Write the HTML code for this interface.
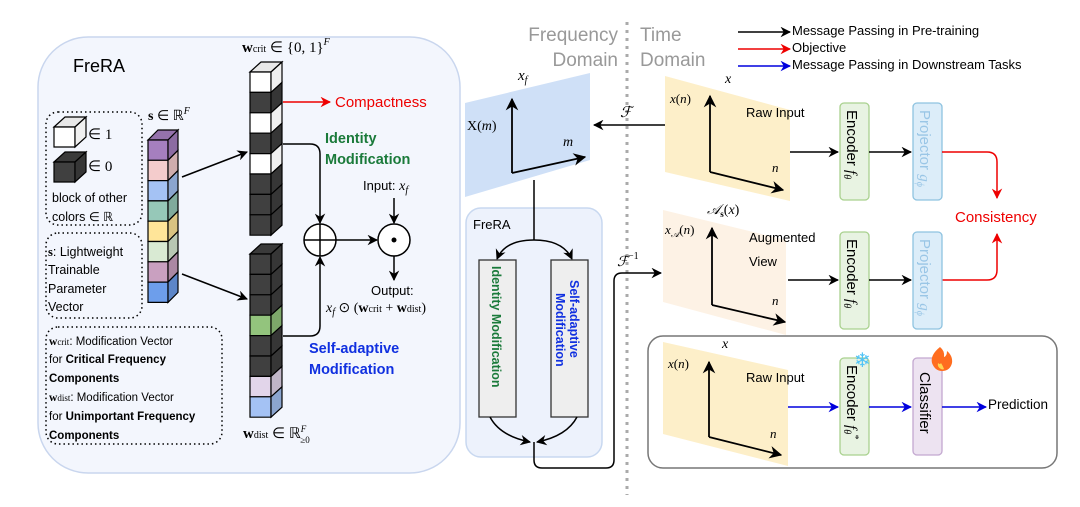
<!DOCTYPE html>
<html><head><meta charset="utf-8">
<style>
html,body{margin:0;padding:0;background:#fff;}
svg{display:block;}
text{font-family:"Liberation Sans",sans-serif;}
.m{font-family:"Liberation Serif",serif;font-style:italic;}
.b{font-family:"Liberation Serif",serif;font-weight:bold;}
</style></head>
<body>
<svg id="s" width="1080" height="507" viewBox="0 0 1080 507" xmlns="http://www.w3.org/2000/svg">
<defs>
<marker id="ak" viewBox="0 0 10 10" refX="9" refY="5" markerWidth="7" markerHeight="7" orient="auto-start-reverse"><path d="M0,0 L10,5 L0,10 L3,5 z" fill="#000"/></marker>
<marker id="ar" viewBox="0 0 10 10" refX="9" refY="5" markerWidth="7" markerHeight="7" orient="auto"><path d="M0,0 L10,5 L0,10 L3,5 z" fill="#e00"/></marker>
<marker id="ab" viewBox="0 0 10 10" refX="9" refY="5" markerWidth="7" markerHeight="7" orient="auto"><path d="M0,0 L10,5 L0,10 L3,5 z" fill="#00d"/></marker>
</defs>
<!-- left panel -->
<rect x="38" y="37" width="422" height="436" rx="50" fill="#f3f6fd" stroke="#c9d6ee" stroke-width="1.5"/>
<text x="73" y="72" font-size="18">FreRA</text>
<rect x="46" y="112" width="96" height="113" rx="12" fill="none" stroke="#000" stroke-width="1.5" stroke-dasharray="1.5 3"/>
<rect x="46" y="233" width="96" height="85" rx="12" fill="none" stroke="#000" stroke-width="1.5" stroke-dasharray="1.5 3"/>
<rect x="46" y="327" width="176" height="117" rx="12" fill="none" stroke="#000" stroke-width="1.5" stroke-dasharray="1.5 3"/>
<g id="cubes"></g>
<text x="88" y="139" font-size="15" class="m" style="font-style:normal">∈ 1</text>
<text x="88" y="171" font-size="15" class="m" style="font-style:normal">∈ 0</text>
<text x="52" y="202" font-size="12.5">block of other</text>
<text x="52" y="221" font-size="12.5">colors ∈ ℝ</text>
<text x="48" y="256" font-size="12.5"><tspan class="b">s</tspan>: Lightweight</text>
<text x="48" y="274" font-size="12.5">Trainable</text>
<text x="48" y="293" font-size="12.5">Parameter</text>
<text x="48" y="311" font-size="12.5">Vector</text>
<text x="49" y="345" font-size="11.5"><tspan class="b">w</tspan><tspan font-size="9" class="m" style="font-style:normal">crit</tspan>: Modification Vector</text>
<text x="49" y="363" font-size="11.5">for <tspan font-weight="bold">Critical Frequency</tspan></text>
<text x="49" y="382" font-size="11.5" font-weight="bold">Components</text>
<text x="49" y="401" font-size="11.5"><tspan class="b">w</tspan><tspan font-size="9" class="m" style="font-style:normal">dist</tspan>: Modification Vector</text>
<text x="49" y="420" font-size="11.5">for <tspan font-weight="bold">Unimportant Frequency</tspan></text>
<text x="49" y="439" font-size="11.5" font-weight="bold">Components</text>
<text x="148" y="120" font-size="14" class="m" style="font-style:normal"><tspan class="b">s</tspan> ∈ ℝ<tspan font-size="10" dy="-6" class="m">F</tspan></text>
<text x="242" y="52" font-size="15" class="m" style="font-style:normal"><tspan class="b">w</tspan><tspan font-size="10">crit</tspan> ∈ {0, 1}<tspan font-size="10" dy="-7" class="m">F</tspan></text>
<text x="243" y="438" font-size="15" class="m" style="font-style:normal"><tspan class="b">w</tspan><tspan font-size="10">dist</tspan> ∈ ℝ<tspan font-size="9" dy="-6" class="m">F</tspan><tspan font-size="9" dx="-6" dy="11">≥0</tspan></text>
<line x1="182" y1="177" x2="247" y2="152" stroke="#000" stroke-width="1.5" marker-end="url(#ak)"/>
<line x1="182" y1="274" x2="247" y2="299" stroke="#000" stroke-width="1.5" marker-end="url(#ak)"/>
<line x1="283" y1="102" x2="330" y2="102" stroke="#e00" stroke-width="1.5" marker-end="url(#ar)"/>
<text x="335" y="107" font-size="15" fill="#e00">Compactness</text>
<text x="325" y="143" font-size="14.5" fill="#1a7a3a" font-weight="bold">Identity</text>
<text x="325" y="164" font-size="14.5" fill="#1a7a3a" font-weight="bold">Modification</text>
<text x="309" y="353" font-size="14.5" fill="#1030e0" font-weight="bold">Self-adaptive</text>
<text x="309" y="374" font-size="14.5" fill="#1030e0" font-weight="bold">Modification</text>
<path d="M283,144 H310 Q320,144 320,154 V223" fill="none" stroke="#000" stroke-width="1.5" marker-end="url(#ak)"/>
<path d="M283,336 H310 Q320,336 320,326 V257" fill="none" stroke="#000" stroke-width="1.5" marker-end="url(#ak)"/>
<circle cx="320" cy="240" r="16" fill="#fff" stroke="#000" stroke-width="1.5"/>
<line x1="304" y1="240" x2="336" y2="240" stroke="#000" stroke-width="1.5"/><line x1="320" y1="224" x2="320" y2="256" stroke="#000" stroke-width="1.5"/>
<line x1="336" y1="240" x2="377" y2="240" stroke="#000" stroke-width="1.5" marker-end="url(#ak)"/>
<circle cx="394" cy="240" r="16" fill="#fff" stroke="#000" stroke-width="1.5"/><circle cx="394" cy="240" r="2.5" fill="#000"/>
<text x="363" y="190" font-size="13">Input: <tspan class="m" font-size="14">x<tspan font-size="10" dy="3">f</tspan></tspan></text>
<line x1="394" y1="198" x2="394" y2="223" stroke="#000" stroke-width="1.5" marker-end="url(#ak)"/>
<line x1="394" y1="256" x2="394" y2="280" stroke="#000" stroke-width="1.5" marker-end="url(#ak)"/>
<text x="371" y="295" font-size="13">Output:</text>
<text x="326" y="312" font-size="14" class="m" style="font-style:normal"><tspan class="m">x</tspan><tspan font-size="10" dy="3" class="m">f</tspan><tspan dy="-3"> ⊙ (</tspan><tspan class="b">w</tspan><tspan font-size="10">crit</tspan> + <tspan class="b">w</tspan><tspan font-size="10">dist</tspan>)</text>

<!-- domain labels -->
<text x="618" y="41" font-size="19" fill="#999" text-anchor="end">Frequency</text>
<text x="618" y="66" font-size="19" fill="#999" text-anchor="end">Domain</text>
<text x="640" y="41" font-size="19" fill="#999">Time</text>
<text x="640" y="66" font-size="19" fill="#999">Domain</text>
<line x1="627" y1="22" x2="627" y2="495" stroke="#aaa" stroke-width="3" stroke-dasharray="3 5"/>
<line x1="738" y1="32" x2="790" y2="32" stroke="#000" stroke-width="1.5" marker-end="url(#ak)"/>
<line x1="738" y1="49" x2="790" y2="49" stroke="#e00" stroke-width="1.5" marker-end="url(#ar)"/>
<line x1="738" y1="66" x2="790" y2="66" stroke="#00d" stroke-width="1.5" marker-end="url(#ab)"/>
<text x="792" y="35" font-size="13">Message Passing in Pre-training</text>
<text x="792" y="52" font-size="13">Objective</text>
<text x="792" y="69" font-size="13">Message Passing in Downstream Tasks</text>

<!-- freq domain -->
<polygon points="465,103 590,73 590,160 465,197" fill="#cfe0f7"/>
<line x1="512" y1="173" x2="512" y2="99" stroke="#000" stroke-width="1.8" marker-end="url(#ak)"/>
<line x1="512" y1="173" x2="585" y2="157" stroke="#000" stroke-width="1.8" marker-end="url(#ak)"/>
<text x="467" y="130" font-size="14" class="m" style="font-style:normal">X(<tspan class="m">m</tspan>)</text>
<text x="563" y="146" font-size="14" class="m">m</text>
<text x="518" y="80" font-size="15" class="m">x<tspan font-size="10" dy="3">f</tspan></text>
<line x1="665" y1="125" x2="594" y2="125" stroke="#000" stroke-width="1.5" marker-end="url(#ak)"/>
<text x="620" y="117" font-size="15" class="m">ℱ</text>
<rect x="466" y="208" width="136" height="249" rx="15" fill="#edf2fc" stroke="#c8d8f0" stroke-width="1.5"/>
<text x="473" y="229" font-size="13">FreRA</text>
<path d="M534,180 V240" stroke="#000" stroke-width="1.5" fill="none"/>
<path d="M534,240 Q505,240 497,259" stroke="#000" stroke-width="1.5" fill="none" marker-end="url(#ak)"/>
<path d="M534,240 Q563,240 572,259" stroke="#000" stroke-width="1.5" fill="none" marker-end="url(#ak)"/>
<rect x="479" y="260" width="37" height="157" fill="#eee" stroke="#333" stroke-width="1.3"/>
<rect x="551" y="260" width="37" height="157" fill="#eee" stroke="#333" stroke-width="1.3"/>
<text transform="translate(492,266) rotate(90)" font-size="12.5" fill="#1a7a3a" font-weight="bold">Identity  Modification</text>
<text transform="translate(570,280) rotate(90)" font-size="12.5" fill="#1030e0" font-weight="bold">Self-adaptive</text>
<text transform="translate(556,293) rotate(90)" font-size="12.5" fill="#1030e0" font-weight="bold">Modification</text>
<path d="M490,417 Q500,436 530,442" stroke="#000" stroke-width="1.5" fill="none" marker-end="url(#ak)"/>
<path d="M577,417 Q567,436 537,442" stroke="#000" stroke-width="1.5" fill="none" marker-end="url(#ak)"/>
<path d="M534,442 V460 Q534,468 542,468 H606 Q614,468 614,460 V281 Q614,273 622,273 H661" stroke="#000" stroke-width="1.5" fill="none" marker-end="url(#ak)"/>
<text x="617" y="266" font-size="14" class="m">ℱ<tspan font-size="10" dy="-7" style="font-style:normal">−1</tspan></text>

<!-- row1 -->
<polygon points="665,76 790,110 790,201 665,172" fill="#fdefc9"/>
<line x1="710" y1="172" x2="710" y2="96" stroke="#000" stroke-width="1.8" marker-end="url(#ak)"/>
<line x1="710" y1="172" x2="783" y2="190" stroke="#000" stroke-width="1.8" marker-end="url(#ak)"/>
<text x="670" y="103" font-size="13" class="m">x<tspan style="font-style:normal">(</tspan>n<tspan style="font-style:normal">)</tspan></text>
<text x="725" y="83" font-size="14" class="m">x</text>
<text x="772" y="172" font-size="13" class="m">n</text>
<text x="746" y="117" font-size="13">Raw Input</text>
<line x1="790" y1="152" x2="838" y2="152" stroke="#000" stroke-width="1.5" marker-end="url(#ak)"/>
<rect x="840" y="103" width="29" height="97" rx="4" fill="#e8f3e2" stroke="#a9d18e" stroke-width="1.3"/>
<text transform="translate(847,110) rotate(90)" font-size="15">Encoder <tspan class="m">f<tspan font-size="10" dy="3">θ</tspan></tspan></text>
<line x1="869" y1="152" x2="911" y2="152" stroke="#000" stroke-width="1.5" marker-end="url(#ak)"/>
<rect x="913" y="103" width="29" height="97" rx="4" fill="#dcedf9" stroke="#8ec3e0" stroke-width="1.3"/>
<text transform="translate(920,110) rotate(90)" font-size="15" fill="#9ac6e6">Projector <tspan class="m">g<tspan font-size="10" dy="3">ϕ</tspan></tspan></text>
<path d="M942,152 H987 Q997,152 997,162 V198" stroke="#e00" stroke-width="1.5" fill="none" marker-end="url(#ar)"/>
<text x="955" y="222" font-size="15" fill="#e00">Consistency</text>
<path d="M942,280 H987 Q997,280 997,270 V234" stroke="#e00" stroke-width="1.5" fill="none" marker-end="url(#ar)"/>

<!-- row2 -->
<polygon points="663,210 786,240 786,335 663,302" fill="#fdf2e5"/>
<line x1="712" y1="305" x2="712" y2="228" stroke="#000" stroke-width="1.8" marker-end="url(#ak)"/>
<line x1="712" y1="305" x2="785" y2="322" stroke="#000" stroke-width="1.8" marker-end="url(#ak)"/>
<text x="665" y="234" font-size="13" class="m">x<tspan font-size="9" dy="3">𝒜</tspan><tspan dy="-3" style="font-style:normal">(</tspan>n<tspan style="font-style:normal">)</tspan></text>
<text x="707" y="214" font-size="14" class="m">𝒜<tspan font-size="9" dy="3" class="b" style="font-style:normal">s</tspan><tspan dy="-3" style="font-style:normal">(</tspan>x<tspan style="font-style:normal">)</tspan></text>
<text x="749" y="242" font-size="13">Augmented</text>
<text x="749" y="266" font-size="13">View</text>
<text x="772" y="305" font-size="13" class="m">n</text>
<line x1="788" y1="280" x2="838" y2="280" stroke="#000" stroke-width="1.5" marker-end="url(#ak)"/>
<rect x="840" y="232" width="29" height="97" rx="4" fill="#e8f3e2" stroke="#a9d18e" stroke-width="1.3"/>
<text transform="translate(847,239) rotate(90)" font-size="15">Encoder <tspan class="m">f<tspan font-size="10" dy="3">θ</tspan></tspan></text>
<line x1="869" y1="280" x2="911" y2="280" stroke="#000" stroke-width="1.5" marker-end="url(#ak)"/>
<rect x="913" y="232" width="29" height="97" rx="4" fill="#dcedf9" stroke="#8ec3e0" stroke-width="1.3"/>
<text transform="translate(920,239) rotate(90)" font-size="15" fill="#9ac6e6">Projector <tspan class="m">g<tspan font-size="10" dy="3">ϕ</tspan></tspan></text>

<!-- row3 -->
<rect x="648" y="336" width="409" height="132" rx="15" fill="none" stroke="#777" stroke-width="1.5"/>
<polygon points="663,342 788,370 788,466 663,434" fill="#fdefc9"/>
<line x1="709" y1="437" x2="709" y2="362" stroke="#000" stroke-width="1.8" marker-end="url(#ak)"/>
<line x1="709" y1="437" x2="781" y2="455" stroke="#000" stroke-width="1.8" marker-end="url(#ak)"/>
<text x="668" y="368" font-size="13" class="m">x<tspan style="font-style:normal">(</tspan>n<tspan style="font-style:normal">)</tspan></text>
<text x="722" y="348" font-size="14" class="m">x</text>
<text x="770" y="438" font-size="13" class="m">n</text>
<text x="746" y="382" font-size="13">Raw Input</text>
<line x1="788" y1="407" x2="838" y2="407" stroke="#00d" stroke-width="1.5" marker-end="url(#ab)"/>
<rect x="840" y="358" width="29" height="97" rx="4" fill="#e8f3e2" stroke="#a9d18e" stroke-width="1.3"/>
<text transform="translate(847,365) rotate(90)" font-size="15">Encoder <tspan class="m">f<tspan font-size="10" dy="3">θ</tspan><tspan font-size="10" dy="-8">*</tspan></tspan></text>
<text x="854" y="367" font-size="20" fill="#4fc3f7">❄</text>
<line x1="869" y1="407" x2="911" y2="407" stroke="#00d" stroke-width="1.5" marker-end="url(#ab)"/>
<rect x="913" y="358" width="29" height="97" rx="4" fill="#ede3f1" stroke="#c3a8d0" stroke-width="1.3"/>
<text transform="translate(920,372) rotate(90)" font-size="15">Classifier</text>
<path d="M940,347 q-10,8 -8,16 q3,8 10,8 q8,0 10,-8 q1,-7 -5,-12 q0,5 -3,6 q1,-6 -4,-10z" fill="#ff6d1f"/>
<path d="M941,369 q-4,-2 -3,-6 q2,2 3,0 q2,3 3,6 q-1,1 -3,0z" fill="#ffd54f"/>
<line x1="942" y1="407" x2="986" y2="407" stroke="#00d" stroke-width="1.5" marker-end="url(#ab)"/>
<text x="988" y="409" font-size="13.5">Prediction</text>
</svg>
<script>
(function(){
var g=document.getElementById('cubes'),NS='http://www.w3.org/2000/svg';
function poly(pts,fill){var p=document.createElementNS(NS,'polygon');p.setAttribute('points',pts.map(function(a){return a.join(',')}).join(' '));p.setAttribute('fill',fill);p.setAttribute('stroke','#000');p.setAttribute('stroke-width','1.2');g.appendChild(p);}
function shade(c,f){var n=parseInt(c.slice(1),16),r=(n>>16)&255,gg=(n>>8)&255,b=n&255;return 'rgb('+Math.round(r*f)+','+Math.round(gg*f)+','+Math.round(b*f)+')';}
function col(x0,y0,w,h,dx,dy,cols){
 poly([[x0,y0],[x0+dx,y0+dy],[x0+w+dx,y0+dy],[x0+w,y0]],cols[0]=='#ffffff'?'#e8e8e8':shade(cols[0],0.9));
 for(var i=0;i<cols.length;i++){var y=y0+i*h,c=cols[i];
  poly([[x0,y],[x0+w,y],[x0+w,y+h],[x0,y+h]],c);
  poly([[x0+w,y],[x0+w+dx,y+dy],[x0+w+dx,y+h+dy],[x0+w,y+h]],c=='#ffffff'?'#f0f0f0':shade(c,0.85));}
}
var D='#404040',W='#ffffff';
col(148,140,20,20.3,10,-10,['#a57fbf','#f4cccc','#a4c2f4','#96c8b8','#ffe599','#d9ead3','#c9a0c0','#6d9eeb']);
col(250,72,21,20.4,11,-10,[W,D,W,D,W,D,D,D]);
col(250,254,21,20.4,11,-10,[D,D,D,'#93c47d',D,D,'#e2d5ea','#a4c2f4']);
col(54,127,21,20,11,-10,[W]);
col(54,162,21,20,11,-10,[D]);
})();
</script>
</body></html>
